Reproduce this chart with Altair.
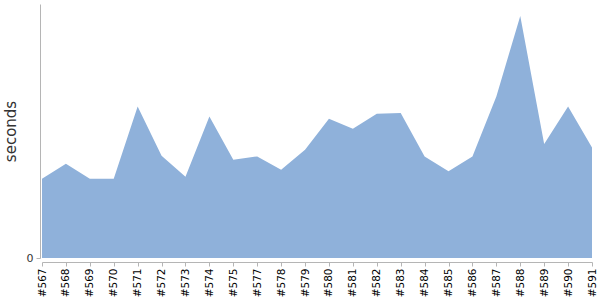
import altair as alt
import pandas as pd

builds = ["#567", "#568", "#569", "#570", "#571", "#572", "#573", "#574", "#575", "#577",
          "#578", "#579", "#580", "#581", "#582", "#583", "#584", "#585", "#586", "#587",
          "#588", "#589", "#590", "#591"]
seconds = [79.5, 94.5, 79.5, 79.5, 151.8, 102.5, 81.5, 141.8, 98.5, 101.8,
           88.5, 108.5, 139.5, 129.5, 144.5, 145.2, 101.8, 86.8, 101.8, 161.8,
           242.5, 114.2, 151.8, 110.8]

df = pd.DataFrame({"build": builds, "seconds": seconds})

chart = alt.Chart(df).mark_area(color="#8FB1DA", opacity=1, interpolate="linear").encode(
    x=alt.X("build:O", sort=builds,
            scale=alt.Scale(type="point", padding=0),
            axis=alt.Axis(title=None, labelAngle=-90, labelAlign="right", labelBaseline="middle",
                          labelFontSize=10.5, labelColor="#000", labelFont="DejaVu Sans",
                          domainColor="#b5b5b5", tickColor="#b5b5b5", tickSize=4,
                          offset=4, labelPadding=2, grid=False)),
    y=alt.Y("seconds:Q", scale=alt.Scale(domain=[0, 254.5], nice=False),
            axis=alt.Axis(title="seconds", values=[0], grid=False, offset=2,
                          titleFontSize=15, titleFontWeight="normal", titleColor="#333",
                          titleFont="DejaVu Sans", titlePadding=8,
                          labelFontSize=11, labelColor="#333", labelFont="DejaVu Sans",
                          domainColor="#b5b5b5", tickColor="#b5b5b5", tickSize=4, labelPadding=3)),
).properties(
    width=550, height=254,
    autosize=alt.AutoSizeParams(type="none"),
    padding={"left": 42, "top": 4, "right": 8, "bottom": 42},
).configure_view(stroke=None)

chart.save("out.html", embed_options={"renderer": "svg", "actions": False})
